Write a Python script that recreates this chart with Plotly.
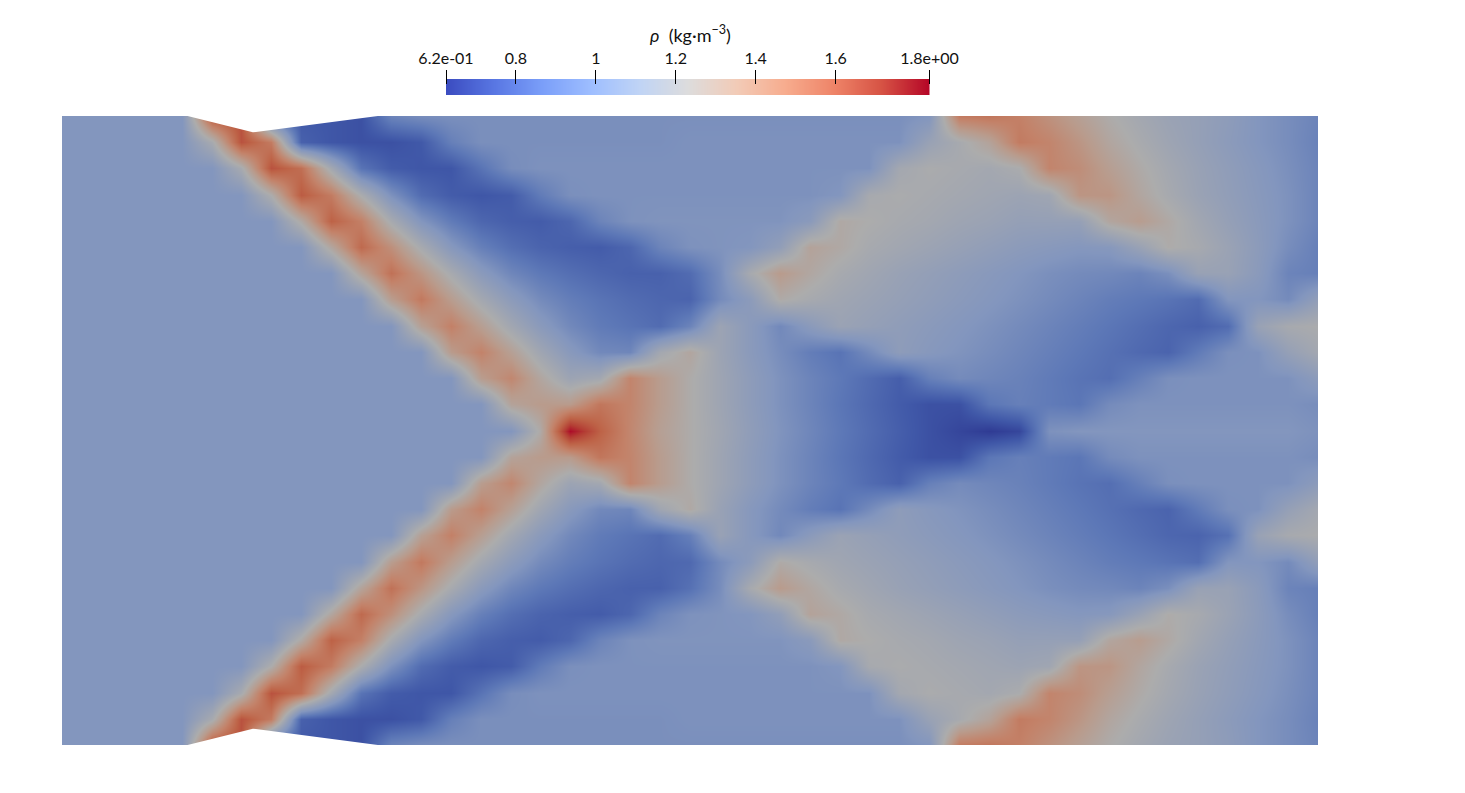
import plotly.graph_objects as go

# density field in hundredths of kg/m3, rows from the top wall to the bottom wall
rho_r00 = [100,100,100,100,100,165,165,78,75,74,72,92,96,97,97,97,97,97,97,97,97,97,97,97,97,97,97,97,97,100,150,152,148,140,132,124,118,113,110,106,100,96,92]
rho_r01 = [100,100,100,100,100,120,165,150,78,74,72,72,75,90,97,97,97,97,97,97,97,98,98,98,98,98,98,98,98,112,120,130,150,146,138,128,121,115,110,105,100,96,91]
rho_r02 = [100,100,100,100,100,100,120,165,155,118,85,76,74,74,85,96,98,98,98,98,98,98,98,98,98,98,98,98,118,122,120,118,122,146,142,133,125,118,112,107,102,97,92]
rho_r03 = [100,100,100,100,100,100,100,123,162,150,122,98,82,76,74,76,88,97,98,98,98,98,98,98,98,98,100,120,122,120,118,116,114,116,138,138,128,120,113,108,103,98,92]
rho_r04 = [100,100,100,100,100,100,100,100,126,160,148,120,100,88,80,77,76,80,92,98,99,99,99,99,99,104,126,123,120,118,115,113,110,110,110,128,134,126,117,110,104,98,92]
rho_r05 = [100,100,100,100,100,100,100,100,100,128,157,141,120,102,90,83,79,77,76,80,92,98,99,100,108,130,126,120,117,114,111,108,105,103,101,102,112,124,120,113,105,96,90]
rho_r06 = [100,100,100,100,100,100,100,100,100,100,130,154,138,120,104,93,87,83,80,78,78,82,96,120,135,127,120,116,112,109,106,103,100,97,95,94,92,97,112,112,104,92,90]
rho_r07 = [100,100,100,100,100,100,100,100,100,100,100,134,151,134,118,105,95,89,85,82,80,79,95,105,125,120,116,113,110,107,104,101,98,95,92,89,87,85,82,100,100,95,108]
rho_r08 = [100,100,100,100,100,100,100,100,100,100,100,100,132,148,133,117,104,94,88,85,82,92,114,104,94,104,113,110,107,104,101,98,95,92,89,86,83,80,78,82,112,120,122]
rho_r09 = [100,100,100,100,100,100,100,100,100,100,100,100,100,135,147,132,116,103,94,93,118,128,114,104,96,89,85,95,106,102,99,96,93,90,87,84,81,79,88,97,98,110,118]
rho_r10 = [100,100,100,100,100,100,100,100,100,100,100,100,100,100,134,145,128,114,118,146,134,124,115,106,98,92,87,82,77,90,95,93,91,88,85,83,90,97,98,98,98,98,105]
rho_r11 = [100,100,100,100,100,100,100,100,100,100,100,100,100,100,100,130,135,135,152,146,134,124,115,106,98,92,86,81,76,72,72,86,90,88,86,95,98,98,98,98,98,98,96]
rho_r12 = [100,100,100,100,100,100,100,100,100,100,100,100,100,100,100,100,125,183,160,145,132,124,116,107,99,93,87,82,77,72,68,64,68,98,100,100,100,100,100,100,100,100,98]
rho_r13 = [100,100,100,100,100,100,100,100,100,100,100,100,100,100,100,130,135,135,152,146,134,124,115,106,98,92,86,81,76,72,72,86,90,88,86,95,98,98,98,98,98,98,96]
rho_r14 = [100,100,100,100,100,100,100,100,100,100,100,100,100,100,134,145,128,114,118,146,134,124,115,106,98,92,87,82,78,90,95,93,91,88,85,83,90,97,98,98,98,98,105]
rho_r15 = [100,100,100,100,100,100,100,100,100,100,100,100,100,135,147,132,116,103,94,93,116,126,112,102,95,89,85,95,106,102,99,96,93,90,87,84,81,79,88,97,98,110,118]
rho_r16 = [100,100,100,100,100,100,100,100,100,100,100,100,132,148,133,117,104,94,88,85,82,90,112,102,94,104,113,110,107,104,101,98,95,92,89,86,83,80,79,84,112,120,122]
rho_r17 = [100,100,100,100,100,100,100,100,100,100,100,134,151,134,118,105,95,89,85,82,80,81,95,105,125,120,116,113,110,107,104,101,98,95,92,89,87,85,83,100,100,95,108]
rho_r18 = [100,100,100,100,100,100,100,100,100,100,130,154,138,120,104,93,87,83,80,78,78,84,96,120,135,127,120,116,112,109,106,103,100,97,95,94,92,97,112,112,104,92,90]
rho_r19 = [100,100,100,100,100,100,100,100,100,128,157,141,120,102,90,83,79,77,76,80,92,98,99,100,108,130,126,120,117,114,111,108,105,103,101,102,112,124,120,113,105,96,90]
rho_r20 = [100,100,100,100,100,100,100,100,126,160,148,120,100,88,80,77,76,80,92,98,99,99,99,99,99,104,126,123,120,118,115,113,110,110,110,128,134,126,117,110,104,98,92]
rho_r21 = [100,100,100,100,100,100,100,123,162,150,122,98,82,76,74,76,88,97,98,98,98,98,98,98,98,98,100,120,122,120,118,116,114,116,138,138,128,120,113,108,103,98,92]
rho_r22 = [100,100,100,100,100,100,120,165,155,118,85,76,74,74,85,96,98,98,98,98,98,98,98,98,98,98,98,98,118,122,120,118,122,146,142,133,125,118,112,107,102,97,92]
rho_r23 = [100,100,100,100,100,120,165,150,78,74,72,72,75,90,97,97,97,97,97,97,97,98,98,98,98,98,98,98,98,112,120,130,150,146,138,128,121,115,110,105,100,96,91]
rho_r24 = [100,100,100,100,100,165,165,78,75,74,72,92,96,97,97,97,97,97,97,97,97,97,97,97,97,97,97,97,97,100,150,152,148,140,132,124,118,113,110,106,100,96,92]
rho_rows = [rho_r00,rho_r01,rho_r02,rho_r03,rho_r04,rho_r05,rho_r06,rho_r07,rho_r08,rho_r09,rho_r10,rho_r11,rho_r12,
            rho_r13,rho_r14,rho_r15,rho_r16,rho_r17,rho_r18,rho_r19,rho_r20,rho_r21,rho_r22,rho_r23,rho_r24]

# channel walls: dents in the top and bottom walls
wall_x = [0.2, 0.304, 0.503]
wall_dent = [0.0, 0.026, 0.0]

rho_min, rho_max = 62.5, 183.5
tick_vals = [62.5, 80, 100, 120, 140, 160, 183.5]
tick_text = ["6.2e-01", "0.8", "1", "1.2", "1.4", "1.6", "1.8e+00"]
bar_levels = [62.5, 70, 80, 90, 100, 110, 120, 130, 140, 150, 160, 170, 183.5]

# palette of the legend bar, and the same palette as it appears on the shaded field
bar_colors = [[0.0,"#3b4cc0"],[0.1,"#5977e3"],[0.2,"#7b9ff9"],[0.3,"#9ebeff"],[0.4,"#c0d4f5"],[0.5,"#dddcdc"],
              [0.6,"#f2cbb7"],[0.7,"#f7ac8e"],[0.8,"#ee8468"],[0.9,"#d65244"],[1.0,"#b40426"]]
field_colors = [[0.0,"rgb(45,55,145)"],[0.1,"rgb(64,88,168)"],[0.2,"rgb(93,120,183)"],[0.31,"rgb(131,150,190)"],
                [0.5,"rgb(172,172,172)"],[0.6,"rgb(185,155,140)"],[0.7,"rgb(195,130,105)"],[0.8,"rgb(190,100,72)"],
                [0.9,"rgb(180,62,52)"],[1.0,"rgb(172,10,40)"]]

W, H = 1465, 793
FONT = "Lato"
x_nodes = [2 * i / 42 for i in range(43)]
y_nodes = [j / 24 for j in range(25)]

fig = go.Figure()
fig.add_trace(go.Heatmap(x=x_nodes, y=y_nodes, z=rho_rows, zmin=rho_min, zmax=rho_max,
                         colorscale=field_colors, zsmooth="best", showscale=False, hoverinfo="skip"))
for ys in (wall_dent, [1 - d for d in wall_dent]):
    fig.add_trace(go.Scatter(x=wall_x, y=ys, mode="lines", fill="toself", fillcolor="white",
                             line=dict(color="white", width=0), hoverinfo="skip", showlegend=False))
fig.add_trace(go.Heatmap(x=bar_levels, y=[0, 1], z=[bar_levels, bar_levels], zmin=rho_min, zmax=rho_max,
                         colorscale=bar_colors, zsmooth="best", showscale=False, hoverinfo="skip",
                         xaxis="x2", yaxis="y2"))

fig.update_layout(
    width=W, height=H, margin=dict(l=0, r=0, t=0, b=0, autoexpand=False), paper_bgcolor="white", plot_bgcolor="white",
    showlegend=False, font=dict(family=FONT, size=16, color="#111111"),
    xaxis=dict(domain=[62 / W, 1318 / W], range=[0, 2], visible=False),
    yaxis=dict(domain=[1 - 745 / H, 1 - 116 / H], range=[1, 0], visible=False),
    xaxis2=dict(domain=[446 / W, 929.5 / W], range=[rho_min, rho_max], anchor="free", position=1 - 84 / H,
                side="top", tickmode="array", tickvals=tick_vals, ticktext=tick_text, ticks="outside",
                ticklen=14, tickwidth=1, tickcolor="black", showgrid=False, showline=False, zeroline=False,
                tickfont=dict(family=FONT, size=16, color="#111111")),
    yaxis2=dict(domain=[1 - 95 / H, 1 - 79 / H], range=[0, 1], visible=False, anchor="x2"),
    annotations=[dict(text="<i>ρ</i>\u00a0 (kg·m<sup>−3</sup>)", xref="paper", yref="paper", x=690 / W, y=1 - 34 / H,
                      showarrow=False, xanchor="center", yanchor="middle",
                      font=dict(family=FONT, size=18, color="#111111"))],
)
fig.write_html("out.html", config={"displayModeBar": False}, post_script="document.body.style.margin='0';")
